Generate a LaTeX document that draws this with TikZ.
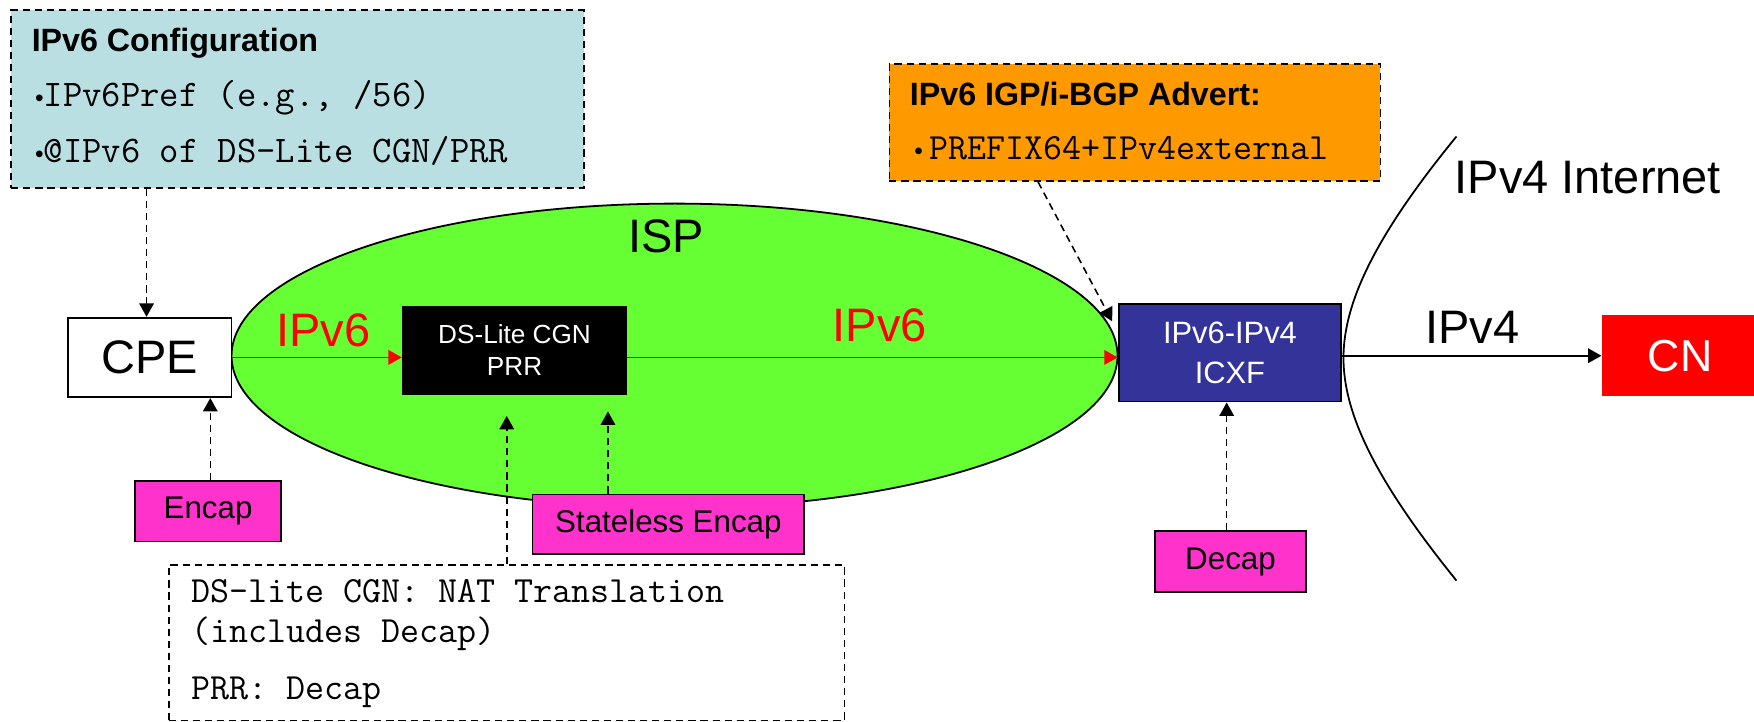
\documentclass[tikz,border=0pt]{standalone}
\usepackage{fontspec}
\setmainfont{Liberation Sans}
\usetikzlibrary{arrows.meta,shapes.geometric}

\definecolor{cfgblue}{HTML}{B9DFE2}
\definecolor{advorange}{HTML}{FF9900}
\definecolor{ispgreen}{HTML}{66FF33}
\definecolor{xfblue}{HTML}{333399}
\definecolor{tagpink}{HTML}{FF33CC}
\definecolor{cnred}{HTML}{FF0000}

\newcommand\fsz[2]{\fontsize{#1pt}{#2pt}\selectfont}
\newcommand\dotmark{{\rmfamily\fsz{11}{13}•}}

\begin{document}
\begin{tikzpicture}[x=0.5pt,y=-0.5pt,
  box/.style={draw=black, line width=0.8pt, rectangle, inner sep=0pt, align=center},
  tag/.style={box, fill=tagpink, font=\fsz{14}{17}},
  dashbox/.style={draw=black, line width=0.7pt, dash pattern=on 3.2pt off 2.2pt, rectangle, inner sep=0pt},
  conn/.style={line width=0.7pt, dash pattern=on 3.2pt off 2.2pt, -{Triangle[length=6pt,width=6.5pt]}},
  flow/.style={line width=0.8pt, -{Triangle[length=6pt,width=6.5pt]}},
  big/.style={font=\fsz{21}{25}},
  mono/.style={font=\fsz{16.5}{19}\ttfamily, anchor=base west, inner sep=0pt},
  cfgmono/.style={mono, font=\fsz{16.8}{19}\ttfamily},
  head/.style={font=\fsz{14.4}{17}\bfseries, anchor=base west, inner sep=0pt},
]
\useasboundingbox (0,0) rectangle (1568,645);

% ISP cloud
\node[ellipse, draw=black, line width=0.8pt, fill=ispgreen, minimum width=396pt,
      minimum height=136pt, inner sep=0pt] (isp) at (603,318) {};
\node[big, anchor=base, inner sep=0pt] (isplabel) at (595.5,226) {ISP};

% IPv4 Internet boundary
\draw[line width=0.8pt] (1302,122) .. controls (1230,210) and (1201,270) .. (1201,320)
      .. controls (1201,370) and (1230,430) .. (1302,519);
\node[big, anchor=base west, inner sep=0pt] (inet) at (1300,172.7) {IPv4 Internet};

% configuration note
\node[dashbox, fill=cfgblue, minimum width=256pt, minimum height=79.5pt] (config) at (266,88.5) {};
\node[head] (cfgtitle) at (28,46) {IPv6 Configuration};
\node[cfgmono] (cfgpref) at (31,95) {\dotmark IPv6Pref (e.g., /56)};
\node[cfgmono] (cfgaddr) at (31,145) {\dotmark @IPv6 of DS-Lite CGN/PRR};

% advertisement note
\node[dashbox, fill=advorange, minimum width=219.5pt, minimum height=52.5pt] (advert) at (1014.5,109.5) {};
\node[head] (advtitle) at (813,94) {IPv6 IGP/i-BGP Advert:};
\node[mono] (advprefix) at (817,143) {\dotmark\hspace{3pt}PREFIX64+IPv4external};

% functional boxes
\node[box, fill=white, minimum width=73pt, minimum height=35.5pt, big] (cpe) at (134,319.5) {CPE};
\node[box, fill=black, text=white, minimum width=100pt, minimum height=39pt,
      font=\fsz{11.7}{14.5}] (dslite) at (460,313) {DS-Lite CGN\\PRR};
\node[box, fill=xfblue, text=white, minimum width=99.5pt, minimum height=43.5pt,
      font=\fsz{13.8}{17.5}] (icxf) at (1099.5,315.5) {IPv6-IPv4\\ICXF};
\node[rectangle, fill=cnred, text=white, minimum width=70pt, minimum height=36pt,
      inner sep=0pt, font=\fsz{20}{24}] (cn) at (1502,318) {CN};

% operation tags
\node[tag, minimum width=65pt, minimum height=27pt] (encap) at (186,457) {Encap};
\node[tag, minimum width=121.5pt, minimum height=26.5pt] (stateless) at (597.5,468.5) {Stateless Encap};
\node[tag, minimum width=67.75pt, minimum height=27pt] (decap) at (1100,502) {Decap};

% NAT note
\node[dashbox, fill=white, minimum width=302pt, minimum height=69.5pt] (natnote) at (453,574.5) {};
\node[mono] (natline1) at (171,539) {DS-lite CGN: NAT Translation};
\node[mono] (natline2) at (171,574) {(includes Decap)};
\node[mono] (natline3) at (171,625) {PRR: Decap};

% link labels
\node[big, red, anchor=base, inner sep=0pt] (v6a) at (289,310) {IPv6};
\node[big, red, anchor=base, inner sep=0pt] (v6b) at (786.5,305) {IPv6};
\node[big, anchor=base west, inner sep=0pt] (v4) at (1274,307.5) {IPv4};

% data path
\draw[flow, red] (cpe.east) -- (cpe.east -| dslite.west);
\draw[flow, red] (cpe.east -| dslite.east) -- (cpe.east -| icxf.west);
\draw[flow] (cn.west -| icxf.east) -- (cn.west);

% annotations
\draw[conn] ([xshift=-1.5pt]cpe.north |- config.south) -- ([xshift=-1.5pt]cpe.north);
\draw[conn] ([xshift=1pt]encap.north) -- ([xshift=1pt]encap.north |- cpe.south);
\draw[conn, shorten >=7.5pt] ([xshift=-27pt]stateless.north) -- ([xshift=-27pt]stateless.north |- dslite.south);
\draw[conn, shorten >=9.5pt] (natnote.north) -- (natnote.north |- dslite.south);
\draw[conn] ([xshift=-1.7pt]decap.north) -- ([xshift=-1.7pt]decap.north |- icxf.south);
\draw[conn] ([xshift=-43.25pt]advert.south) -- ([xshift=-2.5pt,yshift=-8pt]icxf.north west);
\end{tikzpicture}
\end{document}
